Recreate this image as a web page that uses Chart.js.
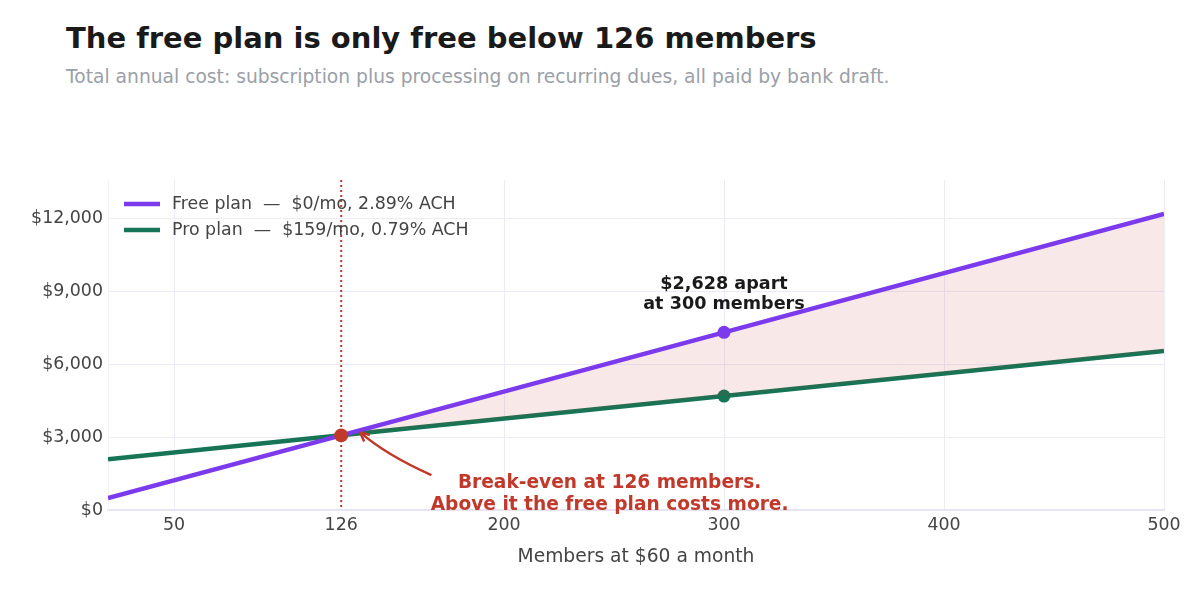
<!DOCTYPE html>
<html>
<head>
<meta charset="utf-8">
<script src="https://cdn.jsdelivr.net/npm/chart.js@4.4.1/dist/chart.umd.min.js"></script>
<style>
  html, body { margin: 0; padding: 0; background: #fff; }
  body { width: 1200px; height: 600px; position: relative; overflow: hidden; font-family: "DejaVu Sans", sans-serif; }
  h1 { position: absolute; left: 66px; top: 21px; margin: 0; font-size: 29px; font-weight: bold; color: #1a1a1a; }
  p.sub { position: absolute; left: 66px; top: 66px; margin: 0; font-size: 18.7px; color: #9aa0a8; }
  #wrap { position: absolute; left: 0; top: 0; width: 1200px; height: 600px; }
</style>
</head>
<body>
<h1>The free plan is only free below 126 members</h1>
<p class="sub">Total annual cost: subscription plus processing on recurring dues, all paid by bank draft.</p>
<div id="wrap"><canvas id="chart"></canvas></div>
<script>
// data
const members = [20, 126, 300, 500];
const freeCost = [488, 3075, 7322, 12204];
const proCost = [2094, 3078, 4694, 6552];
const xTicks = [50, 126, 200, 300, 400, 500];
const yTicks = [0, 3000, 6000, 9000, 12000];
const breakEven = 126;
const gapAt = 300;

const purple = '#7c3aed';
const green = '#157556';
const red = '#c0392b';
const gridColor = '#ecebf6';

// легенда, пунктир, точки и подписи поверх графика
const overlay = {
  id: 'overlay',
  beforeDatasetsDraw(chart) {
    const {ctx, chartArea, scales: {x}} = chart;
    const bx = x.getPixelForValue(breakEven);
    ctx.save();
    ctx.strokeStyle = red;
    ctx.lineWidth = 2;
    ctx.setLineDash([2, 3]);
    ctx.beginPath();
    ctx.moveTo(bx, chartArea.top);
    ctx.lineTo(bx, chartArea.bottom);
    ctx.stroke();
    ctx.restore();
  },
  afterDatasetsDraw(chart) {
    const {ctx, chartArea, scales: {x, y}} = chart;
    ctx.save();

    // точка безубыточности
    const i = members.indexOf(breakEven);
    const bx = x.getPixelForValue(breakEven);
    const by = y.getPixelForValue(freeCost[i]);
    ctx.fillStyle = red;
    ctx.beginPath();
    ctx.arc(bx, by, 7, 0, Math.PI * 2);
    ctx.fill();

    // легенда
    const items = [['Free plan  —  $0/mo, 2.89% ACH', purple], ['Pro plan  —  $159/mo, 0.79% ACH', green]];
    items.forEach(([label, color], k) => {
      const ly = chartArea.top + 24 + k * 26;
      ctx.strokeStyle = color;
      ctx.lineWidth = 4.5;
      ctx.beginPath();
      ctx.moveTo(chartArea.left + 16, ly);
      ctx.lineTo(chartArea.left + 52, ly);
      ctx.stroke();
      ctx.fillStyle = '#444';
      ctx.font = '17.4px "DejaVu Sans"';
      ctx.textAlign = 'left';
      ctx.textBaseline = 'middle';
      ctx.fillText(label, chartArea.left + 64, ly);
    });

    // подпись разницы
    const gx = x.getPixelForValue(gapAt);
    ctx.fillStyle = '#1a1a1a';
    ctx.font = 'bold 17.6px "DejaVu Sans"';
    ctx.textAlign = 'center';
    ctx.fillText('$2,628 apart', gx, 284);
    ctx.fillText('at 300 members', gx, 304);

    // подпись безубыточности
    ctx.fillStyle = red;
    ctx.font = 'bold 18.6px "DejaVu Sans"';
    const nx = x.getPixelForValue(248);
    ctx.fillText('Break-even at 126 members.', nx, 483);
    ctx.fillText('Above it the free plan costs more.', nx, 505);

    // изогнутая стрелка
    const sx = x.getPixelForValue(167), sy = y.getPixelForValue(1440);
    const ex = bx + 19, ey = by - 3;
    ctx.strokeStyle = red;
    ctx.lineWidth = 2.5;
    ctx.beginPath();
    ctx.moveTo(sx, sy);
    ctx.quadraticCurveTo(sx - 45, sy - 20, ex, ey);
    ctx.stroke();
    const ang = Math.atan2(ey - (sy - 20), ex - (sx - 45));
    ctx.beginPath();
    ctx.moveTo(ex, ey);
    ctx.lineTo(ex - 10 * Math.cos(ang - 0.45), ey - 10 * Math.sin(ang - 0.45));
    ctx.moveTo(ex, ey);
    ctx.lineTo(ex - 10 * Math.cos(ang + 0.45), ey - 10 * Math.sin(ang + 0.45));
    ctx.stroke();
    ctx.restore();
  }
};

const pointAt300 = members.map(m => m === gapAt ? 6.5 : 0);

new Chart(document.getElementById('chart'), {
  type: 'line',
  data: {
    labels: members,
    datasets: [
      {
        label: 'Free plan',
        data: members.map((m, i) => ({x: m, y: freeCost[i]})),
        borderColor: purple,
        backgroundColor: purple,
        borderWidth: 4.5,
        pointRadius: pointAt300,
        pointBackgroundColor: purple,
        pointBorderWidth: 0,
        tension: 0,
        fill: {target: '+1', above: 'rgba(192,57,43,0.11)', below: 'rgba(0,0,0,0)'}
      },
      {
        label: 'Pro plan',
        data: members.map((m, i) => ({x: m, y: proCost[i]})),
        borderColor: green,
        backgroundColor: green,
        borderWidth: 4.5,
        pointRadius: pointAt300,
        pointBackgroundColor: green,
        pointBorderWidth: 0,
        tension: 0,
        fill: false
      }
    ]
  },
  options: {
    responsive: true,
    maintainAspectRatio: false,
    animation: false,
    events: [],
    layout: {padding: {top: 180, right: 36, left: 0, bottom: 0}},
    plugins: {
      legend: {display: false},
      tooltip: {enabled: false}
    },
    scales: {
      x: {
        type: 'linear',
        min: 20,
        max: 500,
        afterBuildTicks: axis => { axis.ticks = xTicks.map(v => ({value: v})); },
        afterFit: axis => { axis.height = 90; },
        grid: {
          color: ctx => ctx.tick && ctx.tick.value === breakEven ? 'rgba(0,0,0,0)' : gridColor,
          drawTicks: false
        },
        border: {color: '#e6e3f3', width: 2},
        ticks: {color: '#444', font: {family: 'DejaVu Sans', size: 17.4}, padding: 5},
        title: {
          display: true,
          text: 'Members at $60 a month',
          color: '#444',
          font: {family: 'DejaVu Sans', size: 18.7},
          padding: {top: 4, bottom: 32}
        }
      },
      y: {
        min: 0,
        max: 13600,
        afterBuildTicks: axis => { axis.ticks = yTicks.map(v => ({value: v})); },
        afterFit: axis => { axis.width = 108; },
        grid: {color: gridColor, drawTicks: false},
        border: {color: '#f3f2f8'},
        ticks: {
          color: '#444',
          font: {family: 'DejaVu Sans', size: 17.4},
          padding: 5,
          callback: v => '$' + v.toLocaleString('en-US')
        }
      }
    }
  },
  plugins: [overlay]
});
</script>
</body>
</html>
